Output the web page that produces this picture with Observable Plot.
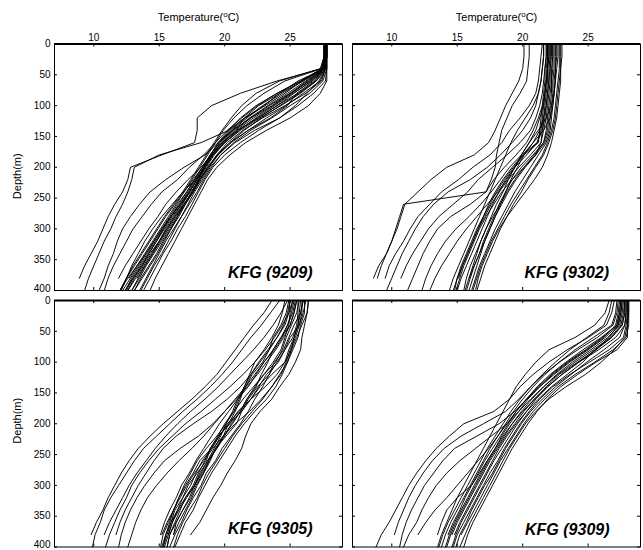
<!DOCTYPE html>
<html><head><meta charset="utf-8">
<script src="https://cdn.jsdelivr.net/npm/d3@7"></script>
<script src="https://cdn.jsdelivr.net/npm/@observablehq/plot@0.6"></script>
<style>
body{margin:0;background:#fff;}
#chart{position:relative;width:643px;height:550px;background:#fff;}
#chart > div{position:absolute;}
</style></head><body><div id="chart"></div>
<script>
// Depth levels (m) shared by every profile
const depths = [0,20,40,60,80,100,120,140,160,180,200,220,240,260,280,300,320,340,360,380,400];
const tempTicks = [10,15,20,25];
const depthTicks = [0,50,100,150,200,250,300,350,400];
const panelNames = ["KFG (9209)","KFG (9302)","KFG (9305)","KFG (9309)"];
const xTitleParts = ["Temperature(","o","C)"];
const yTitle = "Depth(m)";

// Temperature (°C) at each depth, one array per profile
const kfg9209 = [
[27.8,27.8,27.7,27.4,26.2,24.6,22.9,21.4,20.2,19.4,18.8,18.2,17.6,16.9,16.2,15.6,15.0,14.5,13.9,13.4,12.9],
[27.7,27.7,27.5,25.8,24.0,22.4,21.2,20.3,19.5,18.9,18.4,17.8,17.2,16.6,15.9,15.3,14.8,14.2,13.7,13.0,12.4],
[27.6,27.6,27.3,24.2,22.4,21.3,20.5,19.8,19.2,18.6,18.0,17.4,16.8,16.1,15.4,14.8,14.2,13.6,13.0,12.5,12.0],
[27.7,27.7,27.6,26.4,25.1,23.7,22.2,20.9,19.8,19.0,18.4,17.9,17.3,16.7,16.1,15.5,15.0,14.4,13.8,13.2,12.6],
[27.8,27.8,27.7,27.0,25.8,24.3,22.7,21.2,20.0,19.2,18.6,18.0,17.5,16.9,16.4,15.8,15.2,14.6,14.0,13.5,12.9],
[27.6,27.6,27.5,26.0,24.4,22.9,21.6,20.5,19.6,18.9,18.3,17.7,17.1,16.4,15.8,15.2,14.6,14.0,13.4,12.8,12.2],
[27.8,27.8,27.8,27.7,26.8,25.6,24.2,22.3,20.8,19.7,18.9,18.3,17.7,17.2,16.7,16.2,15.7,15.2,14.6,14.1,13.6],
[27.7,27.7,27.6,26.8,25.5,24.8,23.5,21.8,20.4,19.4,18.7,18.1,17.6,17.0,16.5,15.9,15.4,14.9,14.3,13.7,13.1],
[27.6,27.6,27.4,24.6,23.0,21.7,20.7,19.9,19.3,18.7,18.1,17.5,16.9,16.3,15.7,15.1,14.5,13.9,13.3,12.7,null],
[27.7,27.7,27.6,26.6,25.3,24.0,22.6,21.0,20.0,19.1,18.5,17.9,17.3,16.6,15.9,15.2,14.6,14.0,13.3,12.6,12.0],
[27.8,27.8,27.7,27.2,26.3,25.4,24.2,22.6,21.2,20.0,19.1,18.5,18.0,17.5,17.0,16.4,15.9,15.3,14.8,14.3,13.8],
[27.6,27.6,27.5,26.2,24.8,23.3,21.9,20.7,19.8,19.0,18.3,17.6,16.9,16.2,15.5,14.9,14.3,13.7,13.1,12.5,12.1],
[27.7,27.7,27.6,25.6,24.2,23.0,21.7,20.6,19.7,19.0,18.5,18.0,17.5,16.9,16.3,15.7,15.1,14.5,13.9,13.3,null],
[27.8,27.8,27.8,27.5,26.5,25.0,23.6,22.0,20.7,19.7,19.0,18.4,17.9,17.3,16.7,16.1,15.5,15.0,14.5,14.0,13.5],
[27.7,27.7,27.6,26.9,25.7,24.2,22.8,21.5,20.4,19.5,18.8,18.1,17.4,16.7,16.0,15.4,14.8,14.2,13.6,13.0,12.5],
[27.6,27.6,27.4,25.9,24.6,23.1,21.5,20.4,19.6,18.9,18.3,17.7,17.1,16.5,15.9,15.3,14.7,14.1,13.5,12.9,12.4],
[27.8,27.8,27.7,27.3,26.0,24.7,23.2,21.8,20.5,19.5,18.7,18.1,17.6,17.0,16.4,15.9,15.3,14.8,14.2,13.6,13.1],
[27.7,27.7,27.6,26.3,25.0,23.6,22.0,20.8,19.9,19.1,18.5,17.9,17.3,16.8,16.2,15.6,15.0,14.3,13.7,13.1,12.6],
[27.8,27.8,27.8,27.8,27.3,26.4,25.0,23.2,21.6,20.4,19.4,18.7,18.2,17.7,17.2,16.7,16.2,15.7,15.2,14.7,14.3],
[27.6,27.6,27.4,24.0,21.2,19.0,17.9,17.9,17.7,15.2,12.8,12.6,12.2,11.6,11.1,10.7,10.3,9.8,9.3,8.9,null],
[27.7,27.7,27.5,26.0,24.2,22.6,21.5,20.3,18.2,15.0,13.1,12.9,12.6,12.2,11.7,11.3,10.8,10.4,10.0,9.6,9.3],
[27.7,27.7,27.6,26.5,25.0,23.4,22.0,20.6,19.5,18.5,16.9,15.5,14.3,13.5,12.8,12.2,11.8,11.5,11.1,10.8,10.4],
[27.6,27.6,27.5,25.8,24.0,22.5,21.3,20.2,19.3,18.4,17.3,16.4,15.2,14.4,13.7,13.0,12.5,12.0,11.5,11.1,10.8],
[27.8,27.8,27.7,27.0,25.6,24.0,22.5,21.0,19.8,19.0,18.2,17.2,16.3,15.5,14.9,14.2,13.6,13.0,12.4,11.9,null],
[27.7,27.7,27.6,26.7,25.2,23.8,22.4,21.1,20.0,19.1,18.5,17.8,16.8,16.0,15.2,14.5,13.9,13.4,12.9,12.5,12.0]
];
const kfg9302 = [
[22.6,22.6,22.5,22.5,22.4,22.3,22.1,21.6,20.8,20.1,19.6,19.1,18.7,18.3,17.9,17.5,17.1,16.8,16.5,16.2,15.9],
[22.3,22.3,22.2,22.2,22.1,22.0,21.9,21.8,21.6,20.8,19.9,19.2,18.7,18.2,17.8,17.4,17.0,16.7,16.3,16.0,15.7],
[22.0,22.0,21.9,21.9,21.8,21.7,21.6,21.5,21.4,21.0,20.1,19.2,18.4,17.8,17.2,16.7,16.3,15.9,15.5,15.2,14.9],
[22.8,22.8,22.8,22.7,22.6,22.5,22.4,22.2,21.9,21.5,20.9,20.3,19.7,19.1,18.6,18.1,17.6,17.2,16.8,16.5,16.2],
[23.0,23.0,22.9,22.9,22.8,22.7,22.6,22.4,22.2,21.9,21.5,20.9,20.2,19.5,18.8,18.2,17.7,17.3,16.9,16.6,16.4],
[21.8,21.8,21.7,21.7,21.6,21.5,21.4,21.3,21.2,20.1,19.3,18.6,18.0,17.5,17.0,16.6,16.2,15.8,15.4,15.1,null],
[22.4,22.4,22.4,22.3,22.3,22.2,22.1,22.0,21.7,21.0,20.2,19.5,18.9,18.4,17.9,17.5,17.1,16.7,16.3,15.9,15.6],
[22.2,22.2,22.1,22.1,22.0,21.9,21.8,21.6,21.4,20.6,19.7,18.9,18.2,17.6,17.1,16.6,16.2,15.8,15.4,15.0,14.7],
[21.6,21.6,21.5,21.4,21.2,20.8,20.2,19.6,19.1,18.7,18.3,17.9,17.5,17.1,16.7,16.3,15.9,15.5,15.1,14.7,14.4],
[22.5,22.5,22.5,22.4,22.4,22.3,22.2,22.1,21.8,21.2,20.6,20.0,19.4,18.9,18.4,17.9,17.5,17.1,16.7,16.4,16.1],
[22.1,22.1,22.1,22.0,21.9,21.8,21.7,21.5,21.1,20.3,19.4,18.7,18.2,17.7,17.3,16.9,16.5,16.1,15.7,15.3,15.0],
[22.7,22.7,22.6,22.5,22.4,22.2,21.8,21.2,20.5,19.9,19.4,18.9,18.5,18.0,17.6,17.2,16.8,16.5,16.2,15.9,null],
[21.9,21.9,21.8,21.8,21.7,21.6,21.5,21.4,21.1,20.0,19.2,18.5,17.9,17.4,17.0,16.5,16.1,15.7,15.3,15.0,14.8],
[22.3,22.3,22.3,22.2,22.2,22.1,22.0,21.9,21.6,20.9,20.1,19.4,18.8,18.3,17.7,17.2,16.8,16.4,16.0,15.7,15.5],
[22.9,22.9,22.9,22.8,22.7,22.6,22.5,22.3,22.0,21.6,21.0,20.4,19.9,19.3,18.8,18.3,17.9,17.5,17.1,16.8,16.5],
[20.1,20.1,20.0,19.7,19.2,18.7,18.3,17.9,17.4,16.3,14.2,13.0,12.0,11.0,10.7,10.4,10.0,9.6,9.0,8.6,null],
[20.5,20.5,20.4,20.3,19.8,19.2,18.8,18.4,18.2,18.0,17.9,17.6,17.2,10.9,10.6,10.3,10.0,9.6,9.2,8.9,null],
[21.5,21.4,21.3,21.2,21.0,20.5,19.8,19.0,18.4,17.5,16.2,15.1,13.8,12.9,12.0,11.4,10.9,10.3,9.8,9.5,null],
[21.6,21.6,21.5,21.4,21.2,21.0,20.6,20.0,19.2,18.3,17.3,16.0,14.3,13.2,12.4,11.8,11.3,10.8,10.4,10.0,9.6],
[21.8,21.8,21.7,21.6,21.5,21.3,21.0,20.6,19.8,18.8,17.7,16.6,15.8,14.7,13.6,12.8,12.2,11.6,11.1,10.7,null],
[22.0,22.0,21.9,21.8,21.7,21.5,21.2,20.8,20.3,19.5,18.6,17.8,17.2,16.0,14.5,13.5,12.9,12.4,12.0,11.6,11.2],
[21.9,21.9,21.9,21.8,21.7,21.6,21.3,21.0,20.5,19.9,19.0,18.3,17.6,16.8,15.9,14.9,14.1,13.5,13.0,12.6,12.3],
[22.1,22.1,22.0,22.0,21.9,21.8,21.6,21.3,20.8,20.0,19.4,18.8,18.1,17.3,16.5,15.7,15.0,14.4,13.8,13.3,12.9]
];
const kfg9305 = [
[26.2,26.0,25.7,25.0,24.6,24.1,23.2,22.6,22.0,21.0,20.4,19.5,18.9,18.6,17.9,17.2,16.8,16.2,15.9,15.6,15.3],
[25.8,25.7,25.6,25.3,24.9,24.6,24.0,23.1,22.0,21.3,20.9,20.1,19.3,18.9,18.4,17.8,17.4,16.8,16.3,16.1,null],
[25.5,25.3,25.0,24.3,23.7,23.3,22.8,22.4,21.7,21.2,20.5,20.0,19.4,18.7,18.1,17.7,17.0,16.4,16.0,15.7,15.4],
[26.0,25.8,25.3,24.9,24.5,23.8,23.4,22.5,21.8,21.3,20.3,19.6,19.0,18.3,17.8,17.4,16.8,16.4,15.9,15.5,15.2],
[25.2,25.0,24.9,24.6,24.3,23.7,23.0,22.3,21.7,21.2,20.6,19.9,19.4,18.8,18.3,17.7,17.3,16.8,16.3,15.8,15.6],
[26.4,26.3,25.9,25.5,25.1,24.6,23.6,22.7,22.0,21.1,20.2,19.6,19.0,18.1,17.6,17.0,16.5,16.1,15.6,15.2,null],
[25.6,25.6,25.5,25.2,24.6,24.0,23.4,22.9,22.3,21.8,21.2,20.5,19.8,19.3,18.6,18.2,17.6,17.1,16.7,16.2,15.8],
[24.9,24.7,24.3,23.7,23.4,22.9,22.1,21.6,21.1,20.7,20.0,19.5,18.9,18.5,18.0,17.6,17.0,16.6,16.2,15.8,15.6],
[26.1,26.1,25.8,25.6,25.2,24.8,24.2,23.6,22.9,22.1,21.3,20.6,20.0,19.4,18.8,18.3,17.9,17.3,16.8,16.4,16.1],
[25.4,25.2,24.8,24.4,23.8,23.0,22.4,21.8,21.0,20.3,19.6,19.0,18.4,17.8,17.3,16.7,16.3,15.8,15.4,15.1,null],
[25.9,25.9,25.7,25.4,25.0,24.7,24.3,23.6,22.8,21.9,20.8,19.9,19.1,18.4,17.7,17.1,16.6,16.1,15.7,15.3,15.1],
[25.0,24.9,24.6,24.0,23.3,22.6,22.0,21.5,21.0,20.6,20.1,19.7,19.2,18.7,18.2,17.7,17.1,16.5,16.0,15.7,null],
[25.7,25.5,25.1,24.7,24.4,23.9,23.0,22.2,21.4,20.7,20.1,19.4,18.6,17.9,17.4,16.9,16.5,16.1,15.8,15.5,15.3],
[24.6,24.4,24.1,23.6,23.0,22.3,21.9,21.5,21.2,20.8,20.3,19.9,19.3,18.8,18.4,17.9,17.5,17.0,16.5,16.1,null],
[26.0,25.8,25.6,25.3,25.1,24.8,24.4,23.9,23.2,22.3,21.5,20.8,20.2,19.6,19.0,18.5,18.0,17.6,17.0,16.6,16.2],
[26.4,26.3,26.1,25.9,25.8,25.4,24.9,24.2,23.6,22.7,22.0,21.6,21.3,20.8,20.2,19.7,19.1,18.6,18.1,17.4,null],
[23.6,23.0,22.2,21.5,20.8,20.1,19.4,18.5,17.5,16.4,15.3,14.3,13.4,12.7,12.1,11.6,11.1,10.7,10.2,9.8,null],
[24.2,23.5,22.8,22.0,21.3,20.6,19.8,18.9,17.9,16.8,15.8,14.8,13.8,13.1,12.5,11.9,11.3,10.8,10.5,10.1,9.9],
[24.8,24.3,23.7,23.0,22.2,21.3,20.4,19.5,18.5,17.4,16.4,15.5,14.7,14.0,13.3,12.7,12.2,11.7,11.2,10.8,null],
[25.2,24.9,24.4,23.8,23.1,22.3,21.4,20.4,19.3,18.2,17.0,16.0,15.0,14.2,13.5,12.9,12.5,12.0,11.6,11.2,10.9],
[25.0,24.8,24.5,24.0,23.4,22.7,22.0,21.2,20.2,19.0,17.6,16.3,15.3,14.6,14.0,13.4,12.9,12.4,12.0,11.7,null],
[25.5,25.3,25.0,24.5,23.9,23.2,22.5,21.7,20.9,20.0,19.1,18.0,16.6,15.4,14.6,13.9,13.3,12.8,12.4,12.1,11.9],
[25.3,25.1,24.8,24.3,23.7,23.0,22.3,21.6,20.8,20.0,19.2,18.4,17.5,16.5,15.6,14.8,14.1,13.6,13.2,12.9,12.6]
];
const kfg9309 = [
[28.1,28.1,28.0,28.0,27.2,25.6,24.2,22.9,21.9,21.1,20.4,19.8,19.2,18.7,18.2,17.7,17.2,16.7,16.2,15.8,15.5],
[27.9,27.9,27.8,27.1,25.8,24.3,23.0,21.9,21.0,20.3,19.6,19.0,18.4,17.8,17.3,16.8,16.3,15.8,15.3,14.9,14.6],
[27.5,27.4,27.2,26.0,24.6,23.3,22.1,21.1,20.3,19.5,18.9,18.3,17.7,17.1,16.6,16.1,15.6,15.2,14.7,14.3,null],
[28.0,28.0,27.9,27.7,26.6,25.1,23.6,22.3,21.3,20.5,19.8,19.2,18.6,18.1,17.5,17.0,16.5,16.0,15.5,15.0,14.7],
[27.2,27.1,26.8,25.4,24.0,22.8,21.7,20.8,20.0,19.3,18.7,18.1,17.5,17.0,16.5,16.0,15.5,15.0,14.5,14.1,13.8],
[28.1,28.1,28.1,27.9,26.9,25.5,24.0,22.7,21.7,20.8,20.1,19.5,18.9,18.3,17.8,17.3,16.8,16.3,15.8,15.3,null],
[27.7,27.6,27.4,26.5,25.2,23.8,22.6,21.6,20.7,19.9,19.2,18.6,18.0,17.4,16.9,16.4,15.9,15.4,14.9,14.5,14.2],
[26.8,26.6,26.2,24.9,23.6,22.5,21.5,20.6,19.8,19.1,18.5,17.9,17.3,16.8,16.3,15.8,15.3,14.8,14.3,13.9,13.6],
[27.8,27.8,27.6,26.8,25.5,24.6,23.4,22.2,21.2,20.3,19.5,18.8,18.2,17.7,17.2,16.7,16.2,15.7,15.2,14.8,null],
[28.0,28.0,28.0,27.8,27.0,26.0,24.8,23.3,22.0,21.0,20.2,19.6,19.0,18.5,18.0,17.5,17.0,16.5,16.0,15.6,15.2],
[27.4,27.3,27.1,26.2,24.9,23.5,22.3,21.3,20.4,19.7,19.0,18.4,17.9,17.3,16.8,16.3,15.8,15.3,14.8,14.4,14.1],
[27.6,27.5,27.3,26.6,25.6,24.2,22.8,21.8,20.9,20.1,19.4,18.7,18.1,17.5,17.0,16.5,16.0,15.5,15.0,14.6,null],
[27.9,27.9,27.8,27.4,26.2,24.9,23.7,22.5,21.5,20.6,19.9,19.3,18.7,18.2,17.7,17.1,16.6,16.1,15.7,15.2,14.9],
[26.6,26.3,25.5,24.0,22.0,21.0,20.2,19.5,19.0,18.5,18.0,17.5,17.0,16.5,16.0,15.5,15.0,14.6,14.2,13.8,13.5],
[27.0,26.8,26.4,25.0,23.4,22.0,20.8,19.8,19.0,17.8,15.5,14.4,13.4,12.6,11.9,11.3,10.8,10.3,9.8,9.2,8.8],
[27.3,27.2,26.9,25.7,24.2,22.8,21.6,20.6,19.7,18.7,17.0,15.3,14.0,13.1,12.4,11.8,11.3,10.9,10.5,10.2,null],
[27.6,27.5,27.3,26.3,25.0,23.6,22.4,21.3,20.3,19.4,18.2,16.5,14.8,13.9,13.2,12.5,12.0,11.5,11.1,10.8,10.6],
[27.8,27.7,27.5,26.7,25.4,24.0,22.7,21.6,20.6,19.7,18.8,17.6,16.4,15.2,14.2,13.4,12.8,12.3,11.9,11.3,10.9],
[27.5,27.4,27.2,26.1,24.8,23.4,22.2,21.2,20.3,19.5,18.8,18.1,17.4,16.6,15.8,15.0,14.2,13.3,12.6,12.0,null],
[27.8,27.8,27.6,26.8,25.6,24.3,23.0,21.9,20.9,20.0,19.2,18.5,17.9,17.3,16.7,16.1,15.0,14.2,13.8,13.5,null]
];
const panelProfiles = [kfg9209, kfg9302, kfg9305, kfg9309];

const FONT = '"Liberation Sans", Arial, Helvetica, sans-serif';
const innerW = 288, innerH = 246.5;

panelProfiles.forEach((p, k) => p.forEach((t, i) => { if (t.length !== depths.length) throw new Error(`panel ${k} profile ${i} has ${t.length}`); }));

function makePanel(profiles, name, o) {
  const rows = [];
  profiles.forEach((temps, i) => temps.forEach((t, j) => { if (t != null) rows.push({id: i, depth: depths[j], temp: t}); }));
  const marks = [
    Plot.line(rows, {x: "temp", y: "depth", z: "id", stroke: "#000", strokeWidth: 0.95}),
    Plot.tickX(tempTicks, {x: d => d, insetBottom: innerH - 3, stroke: "#000"}),
    Plot.tickX(tempTicks, {x: d => d, insetTop: innerH - 3, stroke: "#000"}),
    Plot.tickY(depthTicks, {y: d => d, insetRight: innerW - 3, stroke: "#000"}),
    Plot.tickY(depthTicks, {y: d => d, insetLeft: innerW - 3, stroke: "#000"}),
    Plot.frame({stroke: "#000", strokeWidth: 1}),
    Plot.ruleY([0], {stroke: "#000", strokeWidth: 2}),
    Plot.text([name], {frameAnchor: "bottom-right", dx: o.ldx, dy: o.ldy, textAnchor: "end", lineAnchor: "bottom",
      fontSize: 16, fontWeight: "bold", fontStyle: "italic", fill: "#000"})
  ];
  if (o.top) {
    marks.push(Plot.axisX(tempTicks, {anchor: "top", tickSize: 0, tickPadding: 3.5, label: null, fontSize: 10}));
    marks.push(Plot.text([xTitleParts.join("")], {frameAnchor: "top", dy: -22.8, textAnchor: "middle", lineAnchor: "bottom", fontSize: 11, fill: "#000"}));
  }
  if (o.left) {
    const first = depthTicks.slice(0, 1), mid = depthTicks.slice(1, -1), last = depthTicks.slice(-1);
    const ax = {anchor: "left", tickSize: 0, tickPadding: 4, label: null, fontSize: 10};
    marks.push(Plot.axisY(first, {...ax, dy: o.firstDy}));
    marks.push(Plot.axisY(mid, ax));
    marks.push(Plot.axisY(last, {...ax, dy: o.lastDy}));
    marks.push(Plot.text([yTitle], {frameAnchor: "left", rotate: -90, dx: -37, dy: o.ydy, textAnchor: "middle", lineAnchor: "middle", fontSize: 11, fill: "#000"}));
  }
  const svg = Plot.plot({
    width: o.mL + innerW + o.mR, height: o.mT + innerH + o.mB,
    marginLeft: o.mL, marginRight: o.mR, marginTop: o.mT, marginBottom: o.mB,
    x: {domain: [7, 29], axis: null},
    y: {domain: [0, 400], reverse: true, axis: null},
    style: {fontFamily: FONT, fontSize: "10px", color: "#000", background: "transparent", overflow: "visible"},
    marks
  });
  d3.select(svg).selectAll("text").filter(function(){ return this.textContent === xTitleParts.join(""); }).each(function(){
    const t = d3.select(this); t.text(null);
    t.append("tspan").text(xTitleParts[0]);
    t.append("tspan").attr("dy", -4).attr("font-size", 8).text(xTitleParts[1]);
    t.append("tspan").attr("dy", 4).text(xTitleParts[2]);
  });
  return svg;
}

const layout = [
  {left: 0,   top: 0,   mL: 54, mR: 5, mT: 43.5, mB: 5,   top_: true,  left_: true,  ldx: -30,   ldy: -13,   ydy: 9,  firstDy: 0, lastDy: -1.5},
  {left: 347, top: 0,   mL: 5,  mR: 3, mT: 43.5, mB: 5,   top_: true,  left_: false, ldx: -31.5, ldy: -13,   ydy: 0},
  {left: 0,   top: 295, mL: 54, mR: 5, mT: 5,    mB: 3.5, top_: false, left_: true,  ldx: -30,   ldy: -13.5, ydy: -3, firstDy: 0.5, lastDy: -2},
  {left: 347, top: 295, mL: 5,  mR: 3, mT: 5,    mB: 3.5, top_: false, left_: false, ldx: -31,   ldy: -12.5, ydy: 0}
];
const chart = document.getElementById("chart");
layout.forEach((L, k) => {
  const div = document.createElement("div");
  div.style.left = L.left + "px"; div.style.top = L.top + "px";
  div.appendChild(makePanel(panelProfiles[k], panelNames[k], {mL: L.mL, mR: L.mR, mT: L.mT, mB: L.mB, top: L.top_, left: L.left_,
    ldx: L.ldx, ldy: L.ldy, ydy: L.ydy, firstDy: L.firstDy, lastDy: L.lastDy}));
  chart.appendChild(div);
});
</script>
</body></html>
